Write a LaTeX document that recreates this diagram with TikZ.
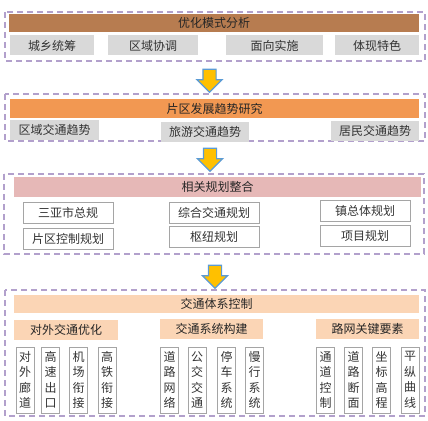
\documentclass[tikz,border=0pt]{standalone}
\usepackage{fontspec}
\newfontfamily\cjk{Noto Sans CJK SC}
\usepackage{tikz}
\usetikzlibrary{shapes.arrows, positioning}
\definecolor{dashpurple}{RGB}{178, 160, 204}
\definecolor{brownhead}{RGB}{183, 124, 80}
\definecolor{orangehead}{RGB}{242, 152, 82}
\definecolor{pinkhead}{RGB}{230, 184, 183}
\definecolor{peachhead}{RGB}{251, 213, 181}
\definecolor{cellgray}{RGB}{217, 217, 217}
\definecolor{linegray}{RGB}{165, 165, 165}
\definecolor{arrowgold}{RGB}{255, 192, 0}
\definecolor{arrowblue}{RGB}{91, 155, 213}
\tikzset{
  groupbox/.style={draw=dashpurple, dash pattern=on 6pt off 4pt, line width=1.3pt},
  headbar/.style={inner sep=0pt, text=black!85, font=\cjk\fontsize{12}{14}\selectfont},
  graycell/.style={fill=cellgray, inner sep=0pt, minimum height=20pt, text=black!80, font=\cjk\fontsize{12}{14}\selectfont},
  plancell/.style={draw=linegray, line width=0.8pt, fill=white, inner sep=0pt, minimum width=90pt, minimum height=21pt, text=black!80, font=\cjk\fontsize{12}{14}\selectfont},
  vcell/.style={draw=linegray, line width=0.8pt, inner sep=0pt, minimum width=18pt, minimum height=66pt, align=center, text=black!80, font=\cjk\fontsize{12}{15.5}\selectfont},
  downarrow/.style={single arrow, shape border rotate=270, draw=arrowblue, fill=arrowgold, line width=1.2pt, inner sep=6pt, minimum height=23pt, minimum width=25pt, single arrow head extend=6pt}
}
\begin{document}
\begin{tikzpicture}[x=1pt, y=-1pt]
    \useasboundingbox (0,0) rectangle (428,420);

    % stage 1
    \draw[groupbox] (5,12) rectangle (425,61);
    \node (head1) [headbar, fill=brownhead, minimum width=410pt, minimum height=18pt] at (214,23) {优化模式分析};
    \node (mode1) [graycell, minimum width=84pt] at (52,45.5) {城乡统筹};
    \node (mode2) [graycell, minimum width=90pt] at (153,45.5) {区域协调};
    \node (mode3) [graycell, minimum width=97pt] at (274.5,45.5) {面向实施};
    \node (mode4) [graycell, minimum width=84pt] at (377,45.5) {体现特色};

    \node (arr1) [downarrow] at (209.5,77.5) {};

    % stage 2
    \draw[groupbox] (5,94) rectangle (425,141);
    \node (head2) [headbar, fill=orangehead, minimum width=409pt, minimum height=19pt] at (214.5,108.5) {片区发展趋势研究};
    \node (trend1) [graycell, minimum width=89pt] at (54.5,130) {区域交通趋势};
    \node (trend2) [graycell, minimum width=88pt] at (205,131.5) {旅游交通趋势};
    \node (trend3) [graycell, minimum width=88pt] at (375,130.5) {居民交通趋势};

    \node (arr2) [downarrow] at (210,156.5) {};

    % stage 3
    \draw[groupbox] (4,174) rectangle (424,254);
    \node (head3) [headbar, fill=pinkhead, minimum width=407pt, minimum height=20pt] at (217.5,187) {相关规划整合};
    \node (plan1) [plancell] at (68,212.5) {三亚市总规};
    \node (plan2) [plancell] at (68,238.5) {片区控制规划};
    \node (plan3) [plancell] at (214,213) {综合交通规划};
    \node (plan4) [plancell] at (214,236.5) {枢纽规划};
    \node (plan5) [plancell] at (365,210.5) {镇总体规划};
    \node (plan6) [plancell] at (365,236) {项目规划};

    \node (arr3) [downarrow] at (215,273.5) {};

    % stage 4
    \draw[groupbox] (5,290) rectangle (425,416);
    \node (head4) [headbar, fill=peachhead, minimum width=405pt, minimum height=18pt] at (216.5,304) {交通体系控制};
    \node (sub1) [headbar, fill=peachhead, minimum width=104pt, minimum height=20pt] at (66,330) {对外交通优化};
    \node (sub2) [headbar, fill=peachhead, minimum width=103pt, minimum height=20pt] at (211.5,328.5) {交通系统构建};
    \node (sub3) [headbar, fill=peachhead, minimum width=103pt, minimum height=20pt] at (367.5,328.5) {路网关键要素};

    \node (ext1) [vcell] at (25,380) {对\\外\\廊\\道};
    \node (ext2) [vcell] at (50.5,380) {高\\速\\出\\口};
    \node (ext3) [vcell] at (78.5,380) {机\\场\\衔\\接};
    \node (ext4) [vcell] at (107,380) {高\\铁\\衔\\接};
    \node (sys1) [vcell] at (169.5,380) {道\\路\\网\\络};
    \node (sys2) [vcell] at (197,380) {公\\交\\交\\通};
    \node (sys3) [vcell] at (226.5,380) {停\\车\\系\\统};
    \node (sys4) [vcell] at (254.5,380) {慢\\行\\系\\统};
    \node (key1) [vcell] at (325.5,380) {通\\道\\控\\制};
    \node (key2) [vcell] at (353.5,380) {道\\路\\断\\面};
    \node (key3) [vcell] at (381.5,380) {坐\\标\\高\\程};
    \node (key4) [vcell] at (410,380) {平\\纵\\曲\\线};
\end{tikzpicture}
\end{document}
